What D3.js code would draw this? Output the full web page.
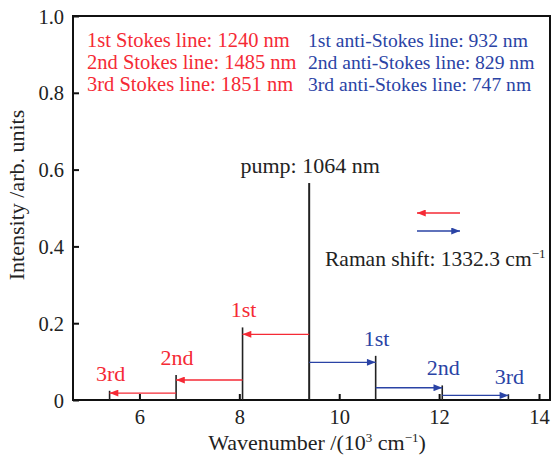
<!DOCTYPE html>
<html>
<head>
<meta charset="utf-8">
<script src="https://cdn.jsdelivr.net/npm/d3@7"></script>
<style>
  html, body { margin: 0; padding: 0; background: #fff; }
  svg text { font-family: "Liberation Serif", "DejaVu Serif", serif; }
</style>
</head>
<body>
<svg id="chart" width="553" height="456"></svg>
<script>
// Lines in wavenumber units (10^3 cm^-1), computed from wavelength in nm
const pumpWavelength = 1064;
const pumpIntensity = 0.565;

const stokesOrders = ["1st", "2nd", "3rd"];
const stokesWavelengths = [1240, 1485, 1851];
const stokesIntensities = [0.189, 0.065, 0.024];
const stokesArrowLevels = [0.171, 0.052, 0.018];

const antiStokesOrders = ["1st", "2nd", "3rd"];
const antiStokesWavelengths = [932, 829, 747];
const antiStokesIntensities = [0.115, 0.038, 0.015];
const antiStokesArrowLevels = [0.098, 0.032, 0.012];

const ramanShift = 1332.3;

const xTicks = [6, 8, 10, 12, 14];
const yTicks = [0, 0.2, 0.4, 0.6, 0.8, 1.0];
const xDomain = [4.67, 14.22];
const yDomain = [0, 1.0];

const RED = "#f52a35";
const BLUE = "#2a43a5";

const toK = nm => 1e4 / nm; // 10^3 cm^-1

const svg = d3.select("#chart");
const margin = { left: 73, right: 3, top: 16, bottom: 56 };
const W = 553, H = 456;

const x = d3.scaleLinear().domain(xDomain).range([margin.left, W - margin.right]);
const y = d3.scaleLinear().domain(yDomain).range([H - margin.bottom, margin.top]);

const defs = svg.append("defs");
function marker(id, color) {
  defs.append("marker")
    .attr("id", id)
    .attr("viewBox", "0 0 10 8")
    .attr("refX", 10).attr("refY", 4)
    .attr("markerWidth", 10).attr("markerHeight", 7)
    .attr("markerUnits", "userSpaceOnUse")
    .attr("orient", "auto")
    .append("path").attr("d", "M0,0 L10,4 L0,8 Z").attr("fill", color);
}
marker("headRed", RED);
marker("headBlue", BLUE);

// Axes with inward ticks
const xAxis = d3.axisBottom(x).tickValues(xTicks).tickSizeInner(-6).tickSizeOuter(0)
  .tickFormat(d3.format("d")).tickPadding(9);
const yAxis = d3.axisLeft(y).tickValues(yTicks).tickSizeInner(-6).tickSizeOuter(0)
  .tickFormat(d => d === 0 ? "0" : d3.format(".1f")(d)).tickPadding(9);

const gx = svg.append("g").attr("transform", `translate(0,${y(0)})`).call(xAxis);
const gy = svg.append("g").attr("transform", `translate(${x(xDomain[0])},0)`).call(yAxis);
[gx, gy].forEach(g => {
  g.select(".domain").remove();
  g.selectAll(".tick line").attr("stroke", "#111").attr("stroke-width", 2);
  g.selectAll(".tick text").attr("font-size", 20.5).attr("fill", "#222")
    .style("font-family", '"Liberation Serif", serif');
});
gy.selectAll(".tick text").attr("dy", "0.35em");

// Plot frame
svg.append("rect")
  .attr("x", x(xDomain[0])).attr("y", y(yDomain[1]))
  .attr("width", x(xDomain[1]) - x(xDomain[0]))
  .attr("height", y(yDomain[0]) - y(yDomain[1]))
  .attr("fill", "none").attr("stroke", "#111").attr("stroke-width", 2);

// Spectral lines
const pumpK = toK(pumpWavelength);
const lines = [{ k: pumpK, v: pumpIntensity, w: 2 }]
  .concat(stokesWavelengths.map((nm, i) => ({ k: toK(nm), v: stokesIntensities[i], w: 1.6 })))
  .concat(antiStokesWavelengths.map((nm, i) => ({ k: toK(nm), v: antiStokesIntensities[i], w: 1.6 })));

svg.append("g").selectAll("line").data(lines).join("line")
  .attr("x1", d => x(d.k)).attr("x2", d => x(d.k))
  .attr("y1", y(0)).attr("y2", d => y(d.v))
  .attr("stroke", "#222").attr("stroke-width", d => d.w);

// Shift arrows, each from the previous line to the next order
function arrows(wls, levels, color, head) {
  const starts = [pumpK].concat(wls.slice(0, -1).map(toK));
  svg.append("g").selectAll("line").data(wls).join("line")
    .attr("x1", (d, i) => x(starts[i]))
    .attr("x2", d => x(toK(d)))
    .attr("y1", (d, i) => y(levels[i])).attr("y2", (d, i) => y(levels[i]))
    .attr("stroke", color).attr("stroke-width", 1.4)
    .attr("marker-end", `url(#${head})`);
}
arrows(stokesWavelengths, stokesArrowLevels, RED, "headRed");
arrows(antiStokesWavelengths, antiStokesArrowLevels, BLUE, "headBlue");

// Order labels above each line
function orderLabels(names, wls, vals, color) {
  svg.append("g").selectAll("text").data(names).join("text")
    .attr("x", (d, i) => x(toK(wls[i])) + 1)
    .attr("y", (d, i) => y(vals[i]) - 10)
    .attr("text-anchor", "middle")
    .attr("font-size", 22).attr("fill", color)
    .text(d => d);
}
orderLabels(stokesOrders, stokesWavelengths, stokesIntensities, RED);
orderLabels(antiStokesOrders, antiStokesWavelengths, antiStokesIntensities, BLUE);

// Pump label
svg.append("text")
  .attr("x", x(pumpK) + 1).attr("y", y(pumpIntensity) - 10)
  .attr("text-anchor", "middle").attr("font-size", 22).attr("fill", "#222")
  .text(`pump: ${pumpWavelength} nm`);

// Wavelength lists
const stokesText = stokesOrders.map((o, i) => `${o} Stokes line: ${stokesWavelengths[i]} nm`);
const antiText = antiStokesOrders.map((o, i) => `${o} anti-Stokes line: ${antiStokesWavelengths[i]} nm`);
svg.append("g").selectAll("text").data(stokesText).join("text")
  .attr("x", 87).attr("y", (d, i) => 47 + i * 22)
  .attr("font-size", 20.5).attr("fill", RED).text(d => d);
svg.append("g").selectAll("text").data(antiText).join("text")
  .attr("x", 308).attr("y", (d, i) => 47 + i * 22)
  .attr("font-size", 19.6).attr("fill", BLUE).text(d => d);

// Direction key
svg.append("line").attr("x1", 460).attr("x2", 417).attr("y1", 213).attr("y2", 213)
  .attr("stroke", RED).attr("stroke-width", 1.4).attr("marker-end", "url(#headRed)");
svg.append("line").attr("x1", 417).attr("x2", 460).attr("y1", 231).attr("y2", 231)
  .attr("stroke", BLUE).attr("stroke-width", 1.4).attr("marker-end", "url(#headBlue)");

const raman = svg.append("text").attr("x", 325).attr("y", 266)
  .attr("font-size", 21.5).attr("fill", "#222");
raman.append("tspan").text(`Raman shift: ${ramanShift} cm`);
raman.append("tspan").attr("dy", -8).attr("font-size", 13).text("\u22121");

// Axis titles
const xt = svg.append("text").attr("x", 317).attr("y", 450)
  .attr("text-anchor", "middle").attr("font-size", 22).attr("fill", "#222");
xt.append("tspan").text("Wavenumber /(10");
xt.append("tspan").attr("dy", -8).attr("font-size", 13).text("3");
xt.append("tspan").attr("dy", 8).text(" cm");
xt.append("tspan").attr("dy", -8).attr("font-size", 13).text("\u22121");
xt.append("tspan").attr("dy", 8).text(")");

svg.append("text")
  .attr("transform", "translate(24,195) rotate(-90)")
  .attr("text-anchor", "middle").attr("font-size", 22).attr("fill", "#222")
  .text("Intensity /arb. units");
</script>
</body>
</html>
